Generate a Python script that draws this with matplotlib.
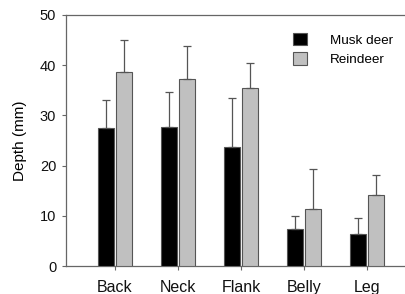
import numpy as np
import matplotlib
matplotlib.use("Agg")
import matplotlib.pyplot as plt

# data
regions = ["Back", "Neck", "Flank", "Belly", "Leg"]
musk_mean = [27.4, 27.6, 23.8, 7.4, 6.4]
musk_err = [5.7, 7.0, 9.7, 2.6, 3.1]
rein_mean = [38.6, 37.3, 35.4, 11.4, 14.1]
rein_err = [6.4, 6.5, 5.0, 7.9, 4.0]

plt.rcParams["font.family"] = ["Liberation Sans", "DejaVu Sans"]

fig = plt.figure(figsize=(4.06, 2.94), dpi=100)
ax = fig.add_axes([66 / 406, 28 / 294, 340 / 406, 251 / 294])

x = np.arange(len(regions))
w = 0.254
off = 0.15
edge = "#555555"
errkw = dict(ecolor="#555555", elinewidth=0.9, capsize=3, capthick=0.9)

ax.bar(x - off, musk_mean, w, color="black", edgecolor=edge, linewidth=0.8,
       yerr=[np.zeros(len(x)), musk_err], error_kw=errkw, label="Musk deer", zorder=3)
ax.bar(x + off, rein_mean, w, color="#c0c0c0", edgecolor=edge, linewidth=0.8,
       yerr=[np.zeros(len(x)), rein_err], error_kw=errkw, label="Reindeer", zorder=3)

ax.set_xlim(-0.778, 4.619)
ax.set_ylim(0, 50)
ax.set_yticks([0, 10, 20, 30, 40, 50])
ax.set_xticks(x)
ax.set_xticklabels(regions)
ax.set_ylabel("Depth (mm)", fontsize=11, labelpad=9)

for s in ["left", "bottom", "top"]:
    ax.spines[s].set_color("#666666")
    ax.spines[s].set_linewidth(0.9)
ax.spines["right"].set_visible(False)
ax.tick_params(axis="both", direction="out", length=3, width=0.8, color="#666666",
               labelsize=10.5, labelcolor="#111111")
ax.tick_params(axis="x", pad=7, labelsize=11.5)
ax.tick_params(axis="y", pad=4)

ax.legend(loc="upper left", bbox_to_anchor=(293 / 406, 1 - 33 / 294),
          bbox_transform=fig.transFigure, frameon=False, fontsize=9.7,
          handlelength=1.05, handleheight=1.05, handletextpad=1.7,
          labelspacing=0.4, borderpad=0, borderaxespad=0)

fig.savefig("out.png", dpi=100)
